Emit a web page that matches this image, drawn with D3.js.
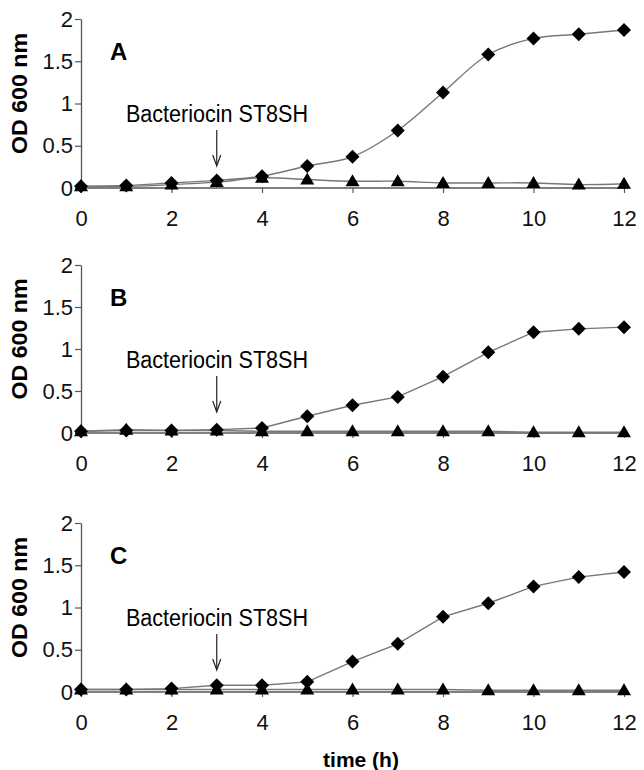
<!DOCTYPE html>
<html>
<head>
<meta charset="utf-8">
<script src="https://cdn.jsdelivr.net/npm/d3@7"></script>
<style>
  body { margin: 0; background: #fff; }
  svg { display: block; font-family: "Liberation Sans", Arial, sans-serif; }
  .tick text { fill: #111; }
</style>
</head>
<body>
<div id="chart"></div>
<script>
var width = 644;
var height = 770;

// time (h)
var hours = [0, 1, 2, 3, 4, 5, 6, 7, 8, 9, 10, 11, 12];
var xTicks = [0, 2, 4, 6, 8, 10, 12];
var yTicks = [0, 0.5, 1, 1.5, 2];

// OD 600 nm, diamonds = control, triangles = with bacteriocin
var diamondA = [0.02, 0.03, 0.06, 0.09, 0.14, 0.26, 0.37, 0.68, 1.13, 1.58, 1.77, 1.82, 1.87];
var triangleA = [0.02, 0.02, 0.04, 0.07, 0.12, 0.10, 0.08, 0.08, 0.06, 0.06, 0.06, 0.04, 0.05];
var diamondB = [0.02, 0.03, 0.03, 0.04, 0.06, 0.20, 0.33, 0.43, 0.67, 0.96, 1.20, 1.24, 1.26];
var triangleB = [0.02, 0.04, 0.03, 0.03, 0.02, 0.02, 0.02, 0.02, 0.02, 0.02, 0.01, 0.01, 0.01];
var diamondC = [0.03, 0.03, 0.04, 0.08, 0.08, 0.12, 0.36, 0.57, 0.89, 1.05, 1.25, 1.36, 1.42];
var triangleC = [0.03, 0.03, 0.03, 0.03, 0.03, 0.03, 0.03, 0.03, 0.03, 0.02, 0.02, 0.02, 0.02];

var panels = [
  {label: "A", top: 19, bottom: 188, diamond: diamondA, triangle: triangleA, smooth: true},
  {label: "B", top: 265, bottom: 433, diamond: diamondB, triangle: triangleB, smooth: false},
  {label: "C", top: 523, bottom: 692, diamond: diamondC, triangle: triangleC, smooth: false}
];

var svg = d3.select("#chart")
  .append("svg")
  .attr("width", width)
  .attr("height", height);

var xScale = d3.scaleLinear().domain([0, 12]).range([81, 624]);

panels.forEach(function(p) {
  var yScale = d3.scaleLinear().domain([0, 2]).range([p.bottom, p.top]);

  var xAxis = d3.axisBottom(xScale).tickValues(xTicks).tickSize(5).tickSizeOuter(0).tickPadding(17);
  var yAxis = d3.axisLeft(yScale).tickValues(yTicks).tickSize(6).tickSizeOuter(0).tickPadding(2)
    .tickFormat(function(d) { return d; });

  var gx = svg.append("g")
    .attr("transform", "translate(0," + p.bottom + ")")
    .call(xAxis);
  var gy = svg.append("g")
    .attr("transform", "translate(81,0)")
    .call(yAxis);

  [gx, gy].forEach(function(g) {
    g.select(".domain").attr("stroke", "#555").attr("stroke-width", 1.3);
    g.selectAll(".tick line").attr("stroke", "#555").attr("stroke-width", 1.2);
    g.selectAll(".tick text").style("font-size", "22px");
  });
  gx.select(".domain").attr("d", "M81,0H628");
  gx.selectAll(".tick text").attr("dy", "0.71em");

  // y axis title
  svg.append("text")
    .attr("transform", "translate(27," + ((p.top + p.bottom) / 2 - 10) + ") rotate(-90)")
    .style("text-anchor", "middle")
    .style("font-weight", "bold")
    .style("font-size", "22px")
    .attr("textLength", 121)
    .attr("lengthAdjust", "spacingAndGlyphs")
    .text("OD 600 nm");

  // panel letter
  svg.append("text")
    .attr("x", 110)
    .attr("y", p.top + 41)
    .style("font-weight", "bold")
    .style("font-size", "24px")
    .text(p.label);

  // bacteriocin annotation and arrow
  svg.append("text")
    .attr("transform", "translate(126," + (p.top + 103) + ") scale(1,1.12)")
    .style("font-size", "22px")
    .attr("textLength", 182)
    .attr("lengthAdjust", "spacingAndGlyphs")
    .text("Bacteriocin ST8SH");
  var ax = xScale(3);
  svg.append("line")
    .attr("x1", ax).attr("x2", ax)
    .attr("y1", p.top + 111).attr("y2", p.top + 146)
    .attr("stroke", "#222").attr("stroke-width", 1.2);
  svg.append("path")
    .attr("d", "M" + (ax - 4) + "," + (p.top + 136) + "L" + ax + "," + (p.top + 147) + "L" + (ax + 4) + "," + (p.top + 136))
    .attr("fill", "none").attr("stroke", "#222").attr("stroke-width", 1.2);

  var line = d3.line()
    .x(function(d, i) { return xScale(hours[i]); })
    .y(function(d) { return yScale(d); })
    .curve(p.smooth ? d3.curveCatmullRom : d3.curveLinear);

  svg.append("path").datum(p.triangle)
    .attr("d", line)
    .attr("fill", "none").attr("stroke", "#777").attr("stroke-width", 1.4);
  svg.append("path").datum(p.diamond)
    .attr("d", line)
    .attr("fill", "none").attr("stroke", "#777").attr("stroke-width", 1.4);

  svg.selectAll(null)
    .data(p.triangle)
    .enter()
    .append("path")
    .attr("d", "M0,-7L7,5L-7,5Z")
    .attr("transform", function(d, i) { return "translate(" + xScale(hours[i]) + "," + yScale(d) + ")"; })
    .attr("fill", "#000");

  svg.selectAll(null)
    .data(p.diamond)
    .enter()
    .append("path")
    .attr("d", "M0,-7L7,0L0,7L-7,0Z")
    .attr("transform", function(d, i) { return "translate(" + xScale(hours[i]) + "," + yScale(d) + ")"; })
    .attr("fill", "#000");
});

// x axis title
svg.append("text")
  .attr("x", 361)
  .attr("y", 767)
  .style("text-anchor", "middle")
  .style("font-weight", "bold")
  .style("font-size", "21px")
  .text("time (h)");
</script>
</body>
</html>
